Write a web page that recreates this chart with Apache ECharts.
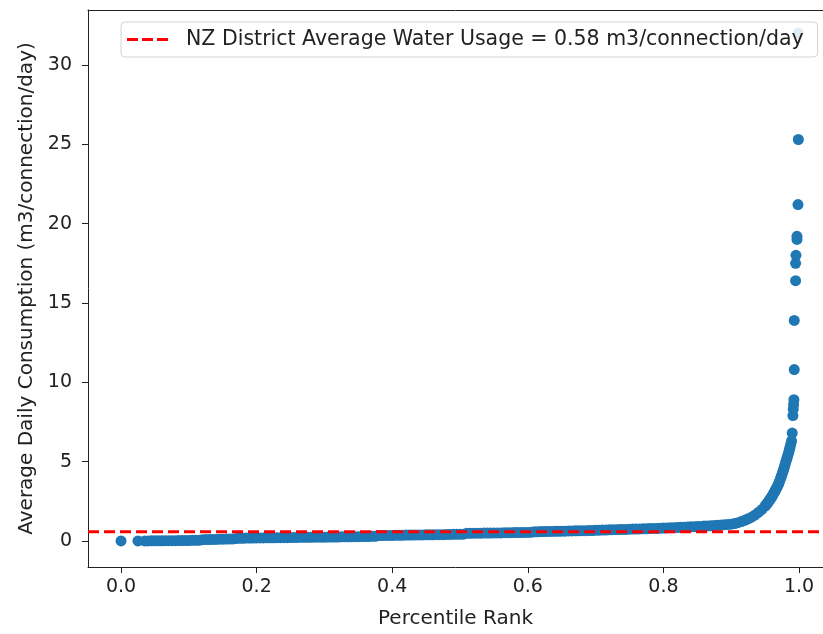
<!DOCTYPE html>
<html>
<head>
<meta charset="utf-8">
<script src="https://cdn.jsdelivr.net/npm/echarts@6/dist/echarts.min.js"></script>
<style>
html,body{margin:0;padding:0;background:#fff;}
#chart{width:823px;height:634px;}
</style>
</head>
<body>
<div id="chart"></div>
<script>
// Percentile rank (x) of each sorted connection
const percentileRank = [
  0.000, 0.025,
  0.035,0.04,0.045,0.05,0.055,0.06,0.065,0.07,0.075,0.08,0.085,0.09,0.095,0.1,0.105,0.11,0.115,
  0.12,0.125,0.13,0.135,0.14,0.145,0.15,0.155,0.16,0.165,
  0.17,0.175,0.18,0.185,0.19,0.195,0.2,0.205,0.21,0.215,0.22,0.225,0.23,0.235,0.24,0.245,0.25,0.255,0.26,
  0.265,0.27,0.275,0.28,0.285,0.29,0.295,0.3,0.305,0.31,0.315,0.32,0.325,0.33,0.335,0.34,0.345,0.35,0.355,0.36,0.365,0.37,0.375,
  0.38,0.385,0.39,0.395,0.4,0.405,0.41,0.415,0.42,0.425,0.43,0.435,0.44,0.445,0.45,0.455,0.46,0.465,0.47,0.475,0.48,0.485,0.49,0.495,0.5,0.505,
  0.51,0.515,0.52,0.525,0.53,0.535,0.54,0.545,0.55,0.555,0.56,0.565,0.57,0.575,0.58,0.585,0.59,0.595,0.6,0.605,
  0.61,0.615,0.62,0.625,0.63,0.635,0.64,0.645,0.65,0.655,0.66,0.665,0.67,0.675,0.68,0.685,0.69,0.695,0.7,
  0.705,0.71,0.715,0.72,0.725,0.73,0.735,0.74,0.745,0.75,0.755,0.76,0.765,0.77,0.775,0.78,0.785,0.79,0.795,0.8,
  0.805,0.81,0.815,0.82,0.825,0.83,0.835,0.84,0.845,0.85,0.855,0.86,0.865,0.87,0.875,0.88,0.885,0.89,0.895,0.9,
  0.905,0.91,0.915,0.92,0.925,0.93,0.935,0.94,0.945,
  0.950,0.951,0.952,0.953,0.954,0.955,0.956,0.957,0.958,0.959,
  0.960,0.961,0.962,0.963,0.964,0.965,0.966,0.967,0.968,0.969,
  0.970,0.971,0.972,0.973,0.974,0.975,0.976,0.977,0.978,0.979,
  0.980,0.981,0.982,0.983,0.984,0.985,0.986,0.987,0.988,0.989,
  0.990,0.991,0.9915,0.992,0.9925,0.993,0.993,0.995,0.995,0.9955,0.997,0.997,0.9985,0.999,0.999
];
// Average daily consumption (m3/connection/day)
const consumption = [
  0.00, 0.00,
  0.00,0.00,0.01,0.01,0.01,0.01,0.02,0.02,0.02,0.02,0.03,0.03,0.03,0.03,0.04,0.04,0.04,
  0.08,0.09,0.09,0.10,0.10,0.11,0.11,0.12,0.12,0.13,
  0.16,0.17,0.17,0.18,0.18,0.18,0.19,0.19,0.19,0.20,0.20,0.20,0.21,0.21,0.21,0.21,0.22,0.22,0.22,
  0.23,0.23,0.23,0.23,0.24,0.24,0.24,0.24,0.25,0.25,0.25,0.25,0.26,0.26,0.26,0.27,0.27,0.27,0.28,0.28,0.28,0.29,0.29,
  0.34,0.34,0.35,0.35,0.35,0.36,0.36,0.36,0.37,0.37,0.37,0.38,0.38,0.38,0.39,0.39,0.39,0.40,0.40,0.40,0.41,0.41,0.42,0.42,0.42,0.43,
  0.48,0.48,0.49,0.49,0.49,0.50,0.50,0.50,0.51,0.51,0.51,0.52,0.52,0.52,0.53,0.53,0.53,0.54,0.54,0.55,
  0.58,0.58,0.59,0.59,0.60,0.60,0.61,0.61,0.62,0.62,0.63,0.63,0.64,0.64,0.65,0.65,0.66,0.66,0.67,
  0.68,0.69,0.69,0.70,0.71,0.71,0.72,0.73,0.73,0.74,0.75,0.75,0.76,0.77,0.77,0.78,0.79,0.79,0.80,0.81,
  0.82,0.83,0.84,0.85,0.86,0.87,0.88,0.89,0.90,0.91,0.92,0.94,0.95,0.96,0.98,0.99,1.01,1.03,1.04,1.06,
  1.10,1.15,1.22,1.30,1.40,1.50,1.63,1.80,1.98,
  2.20,2.25,2.30,2.36,2.42,2.48,2.54,2.60,2.66,2.73,
  2.80,2.87,2.94,3.02,3.10,3.18,3.26,3.34,3.43,3.51,
  3.60,3.72,3.84,3.96,4.08,4.20,4.33,4.46,4.60,4.75,
  4.90,5.04,5.18,5.32,5.46,5.60,5.78,5.95,6.12,6.30,
  6.8,7.9,8.3,8.6,8.9,10.8,13.9,16.4,17.5,18.0,19.0,19.2,21.2,25.3,32.0
];
const averageUsage = 0.58;
const averageLabel = 'NZ District Average Water Usage = 0.58 m3/connection/day';
const xTicks = [0.0, 0.2, 0.4, 0.6, 0.8, 1.0];
const yTicks = [0, 5, 10, 15, 20, 25, 30];
const xRange = [-0.0487, 1.0354];
const yRange = [-1.64, 33.46];

const scatterData = percentileRank.map((r, i) => [r, consumption[i]]);
const font = 'DejaVu Sans';
const dashIcon = 'path://M0,0h11v3h-11z M15,0h11v3h-11z M30,0h11v3h-11z';
const chart = echarts.init(document.getElementById('chart'), null, {renderer: 'canvas'});
chart.setOption({
  animation: false,
  backgroundColor: '#fff',
  grid: {left: 88, top: 10, right: 0, height: 557, show: false, containLabel: false},
  legend: {
    data: [{name: averageLabel, icon: dashIcon}],
    left: 121, top: 22,
    padding: [6, 14, 6, 6],
    itemWidth: 41, itemHeight: 3,
    backgroundColor: 'rgba(255,255,255,0.85)', borderColor: '#d3d3d3', borderWidth: 1, borderRadius: 4,
    formatter: n => '  ' + n,
    textStyle: {fontFamily: font, fontSize: 20.5, color: '#222', lineHeight: 23},
    z: 10
  },
  xAxis: [{
    type: 'value', min: xRange[0], max: xRange[1],
    name: 'Percentile Rank', nameLocation: 'middle', nameGap: 42,
    nameTextStyle: {fontFamily: font, fontSize: 20, color: '#222'},
    axisLine: {show: true, onZero: false, lineStyle: {color: '#222', width: 1}},
    axisTick: {show: true, length: 6, customValues: xTicks, lineStyle: {color: '#222'}},
    axisLabel: {customValues: xTicks, margin: 11, fontFamily: font, fontSize: 19, color: '#222', formatter: v => v.toFixed(1)},
    splitLine: {show: false}
  }, {
    type: 'value', position: 'top', min: xRange[0], max: xRange[1],
    axisLine: {show: true, onZero: false, lineStyle: {color: '#222', width: 1}},
    axisTick: {show: false}, axisLabel: {show: false}, splitLine: {show: false}
  }],
  yAxis: {
    type: 'value', min: yRange[0], max: yRange[1],
    name: 'Average Daily Consumption (m3/connection/day)', nameLocation: 'middle', nameGap: 45,
    nameTextStyle: {fontFamily: font, fontSize: 20, color: '#222'},
    axisLine: {show: true, onZero: false, lineStyle: {color: '#222', width: 1}},
    axisTick: {show: true, length: 6, customValues: yTicks, lineStyle: {color: '#222'}},
    axisLabel: {customValues: yTicks, margin: 16, fontFamily: font, fontSize: 19, color: '#222', formatter: v => String(v)},
    splitLine: {show: false}
  },
  series: [
    {
      type: 'scatter', name: 'data', data: scatterData,
      symbol: 'circle', symbolSize: 11,
      itemStyle: {color: '#1f77b4', opacity: 1},
      z: 2, clip: false
    },
    {
      type: 'line', name: averageLabel,
      data: [[xRange[0], averageUsage], [xRange[1], averageUsage]],
      symbol: 'none',
      lineStyle: {color: '#ff0000', width: 2.8, type: [11, 5]},
      itemStyle: {color: '#ff0000'},
      z: 3
    }
  ]
});
</script>
</body>
</html>
